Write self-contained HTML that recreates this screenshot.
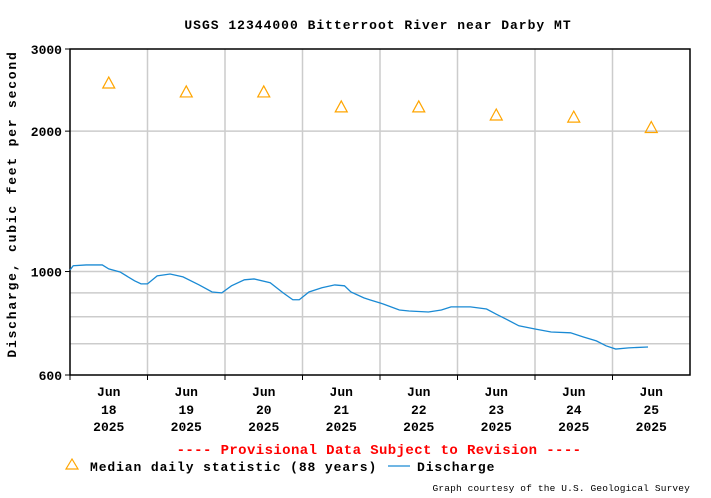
<!DOCTYPE html>
<html><head><meta charset="utf-8"><style>
body{margin:0;background:#fff;width:711px;height:498px;overflow:hidden}
svg{display:block;font-family:"Liberation Mono","DejaVu Sans Mono",monospace}
</style></head><body>
<svg id="chart" width="711" height="498">
<text x="378" y="29" text-anchor="middle" font-size="13" font-weight="bold" letter-spacing="1">USGS 12344000 Bitterroot River near Darby MT</text>
<g id="grid"></g>
<g id="axes"></g>
<g id="marks"></g>
<text transform="translate(16,204) rotate(-90)" text-anchor="middle" font-size="13" font-weight="bold" letter-spacing="1.8">Discharge, cubic feet per second</text>
<text x="379" y="454" text-anchor="middle" font-size="14" font-weight="bold" fill="#ff0000" letter-spacing="0.4">---- Provisional Data Subject to Revision ----</text>
<g>
<polygon points="72,459 66,469 78,469" fill="none" stroke="#ffa500" stroke-width="1.2"/>
<text x="90" y="471" font-size="13" font-weight="bold" letter-spacing="0.9">Median daily statistic (88 years)</text>
</g>
<g>
<line x1="388" y1="466" x2="410" y2="466" stroke="#1a8ad4" stroke-width="1.3"/>
<text x="417" y="471" font-size="13" font-weight="bold" letter-spacing="0.9">Discharge</text>
</g>
<text x="690" y="491" text-anchor="end" font-size="9.5" letter-spacing="0.15">Graph courtesy of the U.S. Geological Survey</text>
</svg>
<script>
const dayLabels = ["18","19","20","21","22","23","24","25"];
const yTicks = [600, 1000, 2000, 3000];
const yMinorGrid = [700, 800, 900, 1000, 2000];
const medianValues = [2536, 2427, 2427, 2254, 2254, 2166, 2143, 2036];
const dischargeHours = [0,1,5,10,12,15.5,20,22,24,27,31,35,40,44,47,50,54,57,62,66,69,71,74,78,82,85,87,91,93,97,102,105,111,115,118,124,129,132,135,139,144,149,155,159,163,166,169,173,179];
const dischargeValues = [1008,1029,1033,1033,1013,998,955,941,941,979,988,974,936,904,900,932,960,964,946,900,870,870,904,923,936,932,904,878,869,852,827,823,819,827,840,840,831,810,791,765,753,742,739,724,710,693,682,686,689];

const L=70,R=690,T=49,B=375,YMIN=600,YMAX=3000,HOURS=192;
const xs=h=>L+(h/HOURS)*(R-L);
const ys=v=>T+(Math.log10(YMAX)-Math.log10(v))/(Math.log10(YMAX)-Math.log10(YMIN))*(B-T);
const NS="http://www.w3.org/2000/svg";
function mk(tag,attrs,parent){const e=document.createElementNS(NS,tag);for(const k in attrs)e.setAttribute(k,attrs[k]);parent.appendChild(e);return e;}
const grid=document.getElementById('grid'),axes=document.getElementById('axes'),marks=document.getElementById('marks');
yMinorGrid.forEach(v=>{const l=mk('line',{x1:L,x2:R,y1:ys(v),y2:ys(v),stroke:'#cccccc','stroke-width':1.5},grid);

});
for(let d=1;d<dayLabels.length;d++){const l=mk('line',{x1:xs(d*24),x2:xs(d*24),y1:T,y2:B,stroke:'#cccccc','stroke-width':1.5},grid);

}
const frame=mk('rect',{x:L,y:T,width:R-L,height:B-T,fill:'none',stroke:'#000','stroke-width':1.5},axes);


yTicks.forEach(v=>{const t=mk('text',{x:L-8,y:ys(v)+5,'text-anchor':'end','font-size':13,'font-weight':'bold'},axes);t.textContent=v;


mk('line',{x1:L-5,x2:L,y1:ys(v),y2:ys(v),stroke:'#000'},axes);});
dayLabels.forEach((d,i)=>{const x=xs(i*24+12);
mk('line',{x1:xs(i*24),x2:xs(i*24),y1:B,y2:B+5,stroke:'#000'},axes);
[["Jun",396],[d,414],["2025",431]].forEach(([s,y])=>{const t=mk('text',{x:x,y:y,'text-anchor':'middle','font-size':13,'font-weight':'bold'},axes);t.textContent=s;

});});
medianValues.forEach((v,i)=>{const x=xs(i*24+12),y=ys(v);
const p=mk('polygon',{points:`${x},${y-6} ${x-6},${y+5} ${x+6},${y+5}`,fill:'none',stroke:'#ffa500','stroke-width':1.2},marks);

});
const pl=mk('polyline',{points:dischargeHours.map((h,i)=>xs(h)+','+ys(dischargeValues[i])).join(' '),fill:'none',stroke:'#1a8ad4','stroke-width':1.3},marks);


</script>
</body></html>
